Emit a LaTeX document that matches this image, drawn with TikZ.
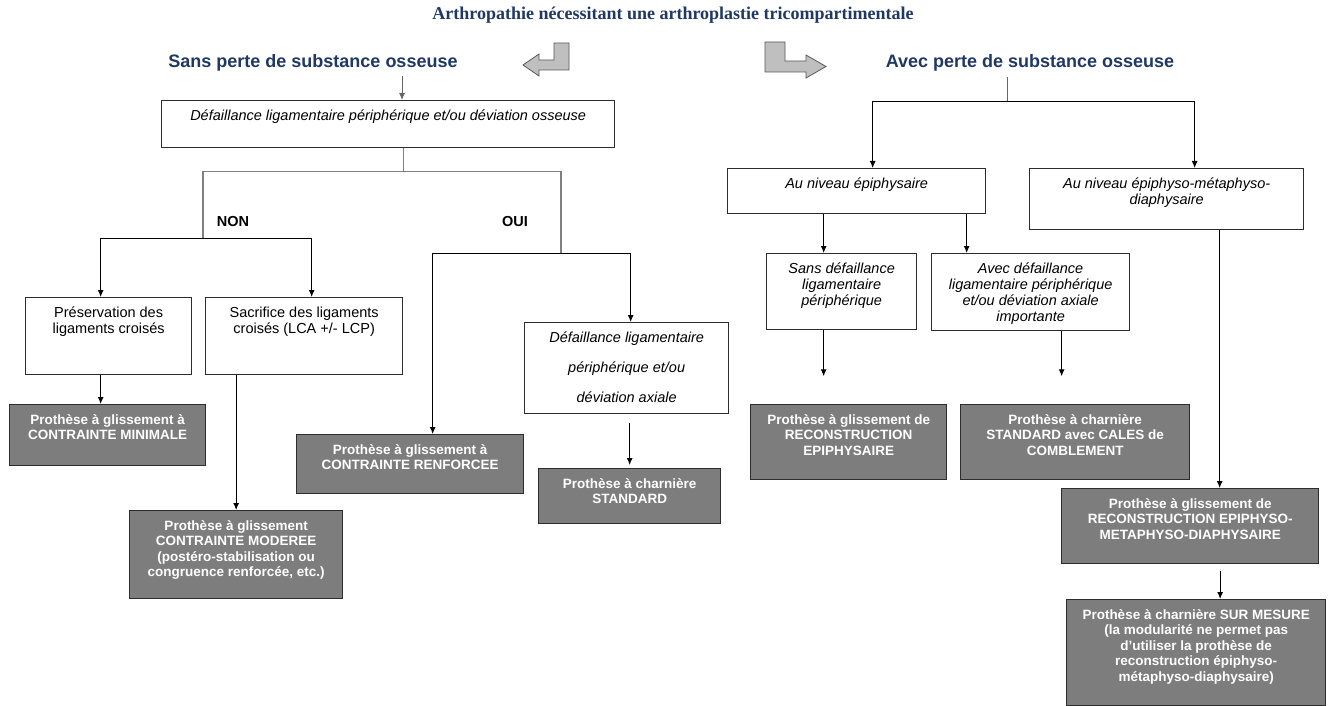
\documentclass[tikz,border=0pt]{standalone}
\usepackage{fontspec}
\setmainfont{Liberation Sans}
\newfontfamily\titrefont{Liberation Serif}
\usetikzlibrary{arrows.meta}
\definecolor{bleu}{RGB}{31,56,100}
\definecolor{fond}{RGB}{125,125,125}
\definecolor{trait}{RGB}{45,45,45}
\tikzset{
	blanc/.style={draw=trait, line width=1.3pt, fill=white, inner sep=0pt, font=\fontsize{14.5}{16}\selectfont},
	italique/.style={blanc, font=\fontsize{14.5}{16}\selectfont\itshape},
	gris/.style={draw=trait, line width=1.3pt, fill=fond, text=white, inner sep=0pt, font=\fontsize{13.5}{15.5}\selectfont\bfseries},
	fleche/.style={-{Latex[length=7pt,width=6pt]}, line width=1pt},
	liaison/.style={draw=gray, line width=1.2pt},
	entete/.style={text=bleu, font=\fontsize{18}{20}\selectfont\bfseries},
	reponse/.style={font=\fontsize{14.5}{16}\selectfont\bfseries},
	bloc/.style={fill=gray!50, draw=gray!70!black, line width=0.8pt}
}
\newcommand{\boite}[7] % style, name, left in px, top in px, width in px, height in px, text
{
	% frame, text at its top
	\node[#1, anchor=north west] (#2) at (#3,#4)
		{\parbox[c][#6pt][t]{#5pt}{\centering\vspace*{8.5pt}\strut #7}};
}
\begin{document}
\begin{tikzpicture}[x=1pt, y=-1pt]
	% page: 1328 x 706 px, y downwards
	\useasboundingbox (0,0) rectangle (1328,706);
	% title and headers
	\node[text=bleu, font=\titrefont\fontsize{18}{20}\selectfont\bfseries] (titre) at (673,15) {Arthropathie nécessitant une arthroplastie tricompartimentale};
	\node[entete] (sans) at (313,63) {Sans perte de substance osseuse};
	\node[entete] (avec) at (1030,63) {Avec perte de substance osseuse};
	% block arrows
	\draw[bloc] (569,43) -- (569,70) -- (539,70) -- (539,76) -- (523,65) -- (539,54) -- (539,60) -- (554,60) -- (554,43) -- cycle;
	\draw[bloc] (765,42) -- (785,42) -- (785,61) -- (806,61) -- (806,55) -- (826,66.5) -- (806,78) -- (806,72) -- (765,72) -- cycle;
	% without bone loss
	\boite{italique}{defo}{161}{100}{453}{47}{Défaillance ligamentaire périphérique et/ou déviation osseuse}
	\node[reponse] (non) at (233,222) {NON};
	\node[reponse] (oui) at (515,222) {OUI};
	\boite{blanc}{pres}{25}{297}{166}{77}{Préservation des\\ ligaments croisés}
	\boite{blanc}{sacr}{205}{297}{197}{77}{Sacrifice des ligaments\\ croisés (LCA +/- LCP)}
	\boite{italique}{axiale}{524}{322}{204}{91}{Défaillance ligamentaire\\[14pt] périphérique et/ou\\[14pt] déviation axiale}
	\boite{gris}{minimale}{9}{404}{196}{61}{Prothèse à glissement à\\ CONTRAINTE MINIMALE}
	\boite{gris}{moderee}{129}{510}{213}{88}{Prothèse à glissement\\ CONTRAINTE MODEREE\\ (postéro-stabilisation ou\\ congruence renforcée, etc.)}
	\boite{gris}{renforcee}{296}{434}{227}{59}{Prothèse à glissement à\\ CONTRAINTE RENFORCEE}
	\boite{gris}{standard}{538}{468}{182}{55}{Prothèse à charnière\\ STANDARD}
	% with bone loss
	\boite{italique}{epi}{727}{168}{258}{45}{Au niveau épiphysaire}
	\boite{italique}{emd}{1029}{168}{274}{61}{Au niveau épiphyso-métaphyso-\\ diaphysaire}
	\boite{italique}{sansdef}{766}{253}{150}{76}{Sans défaillance\\ ligamentaire\\ périphérique}
	\boite{italique}{avecdef}{931}{253}{198}{77}{Avec défaillance\\ ligamentaire périphérique\\ et/ou déviation axiale\\ importante}
	\boite{gris}{recepi}{750}{404}{196}{75}{Prothèse à glissement de\\ RECONSTRUCTION\\ EPIPHYSAIRE}
	\boite{gris}{cales}{960}{404}{229}{75}{Prothèse à charnière\\ STANDARD avec CALES de\\ COMBLEMENT}
	\boite{gris}{recemd}{1061}{488}{257}{75}{Prothèse à glissement de\\ RECONSTRUCTION EPIPHYSO-\\ METAPHYSO-DIAPHYSAIRE}
	\boite{gris}{mesure}{1066}{599}{259}{106}{Prothèse à charnière SUR MESURE\\ (la modularité ne permet pas\\ d'utiliser la prothèse de\\ reconstruction épiphyso-\\ métaphyso-diaphysaire)}
	% connectors - left
	\coordinate (depart) at (402,76);
	\draw[fleche, gray!80!black] (depart) -- (depart |- defo.north);
	\coordinate (brnon) at (203,238);
	\coordinate (broui) at (561,253);
	\draw[liaison] ([xshift=15pt]defo.south) -- ++(0,23) -| (brnon);
	\draw[liaison] ([xshift=15pt]defo.south) ++(0,23) -| (broui);
	\draw[fleche] (brnon) -| ([xshift=-8pt]pres.north);
	\draw[fleche] (brnon) -| ([xshift=7.5pt]sacr.north);
	\draw[fleche] (broui) -| ([xshift=22.5pt]renforcee.north);
	\draw[fleche] (broui) -| ([xshift=4pt]axiale.north);
	\draw[fleche] ([xshift=-8pt]pres.south) -- ([xshift=-8pt]pres.south |- minimale.north);
	\draw[fleche] (sacr.south -| moderee.north) -- (moderee.north);
	\draw[fleche] ([yshift=-9pt]axiale.south -| standard.north) -- ([yshift=3pt]standard.north);
	% connectors - right
	\coordinate (depart2) at (1007,77);
	\draw[gray!80!black, line width=1pt] (depart2) -- ++(0,25) coordinate (brepi);
	\draw[fleche] (brepi) -| ([xshift=16pt]epi.north);
	\draw[fleche] (brepi) -| ([xshift=28pt]emd.north);
	\draw[fleche] ([xshift=-18pt]sansdef.north |- epi.south) -- ([xshift=-18pt]sansdef.north);
	\draw[fleche] ([xshift=-64pt]avecdef.north |- epi.south) -- ([xshift=-64pt]avecdef.north);
	\draw[fleche] ([xshift=-18pt]sansdef.south) -- ++(0,46);
	\draw[fleche] ([xshift=31pt]avecdef.south) -- ++(0,45);
	\draw[fleche] ([xshift=53pt]emd.south) -- ([xshift=53pt]emd.south |- recemd.north);
	\draw[fleche] ([xshift=30pt,yshift=-7pt]recemd.south) -- ([xshift=30pt]recemd.south |- mesure.north);
\end{tikzpicture}
\end{document}
